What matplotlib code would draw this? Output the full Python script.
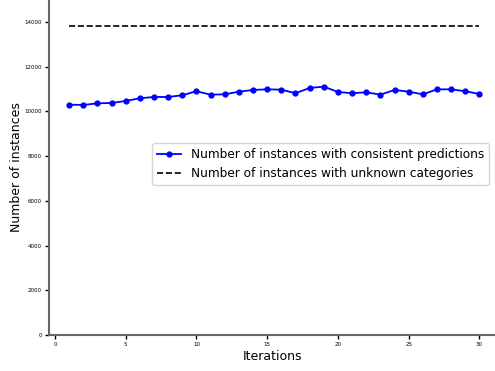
import matplotlib

matplotlib.use("Agg")
import matplotlib.pyplot as plt

iterations = list(range(1, 31))
consistent = [10300, 10286, 10360, 10375, 10465, 10585, 10644, 10644, 10720, 10900,
              10747, 10762, 10880, 10957, 10985, 10970, 10810, 11046, 11105, 10868,
              10810, 10854, 10747, 10957, 10880, 10762, 10985, 10985, 10900, 10777]
unknown = [13820] * 30

fig = plt.figure(figsize=(4.95, 3.71), dpi=100)
ax = fig.add_axes([49 / 495, 36 / 371, 446 / 495, 335 / 371])

ax.plot(iterations, consistent, color="blue", marker="o", markersize=3.5, linewidth=1.3,
        label="Number of instances with consistent predictions")
ax.plot(iterations, unknown, color="black", linestyle="--", linewidth=1.2,
        label="Number of instances with unknown categories")

ax.set_xlim(-0.42, 31.1)
ax.set_ylim(0, 14980)
ax.set_xticks([0, 5, 10, 15, 20, 25, 30])
ax.set_yticks([0, 2000, 4000, 6000, 8000, 10000, 12000, 14000])
ax.tick_params(labelsize=4, length=3, width=1, pad=2)

ax.spines["top"].set_visible(False)
ax.spines["right"].set_visible(False)
for side in ("left", "bottom"):
    ax.spines[side].set_color("#666666")
    ax.spines[side].set_linewidth(1.5)

ax.set_xlabel("Iterations", fontsize=9, labelpad=2)
ax.set_ylabel("Number of instances", fontsize=9, labelpad=1)
ax.legend(fontsize=8.7, loc="center right", bbox_to_anchor=(1.0, 0.51))

fig.savefig("out.png", dpi=100)
